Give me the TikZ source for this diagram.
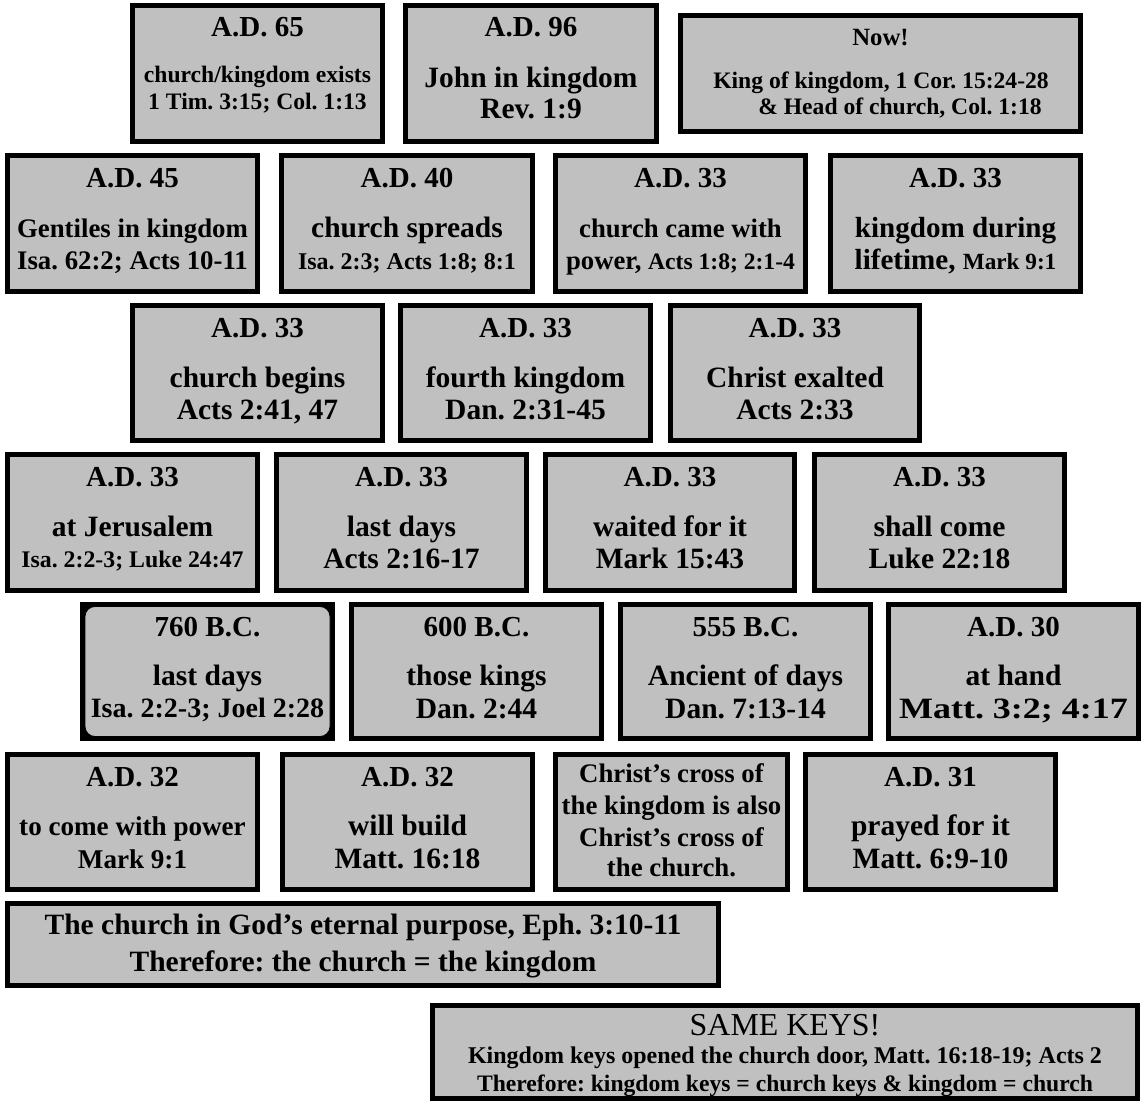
\documentclass[tikz,border=0pt]{standalone}
\usepackage{fontspec}
\setmainfont{Liberation Serif}
\newfontfamily\widefont[FakeStretch=1.22]{Liberation Serif}
\frenchspacing
\definecolor{boxgray}{RGB}{192,192,192}
\newcommand\fsz[1]{\fontsize{#1}{#1}\selectfont\bfseries}
\newcommand\fsr[1]{\fontsize{#1}{#1}\selectfont}
\tikzset{
  cbox/.style={draw=black, fill=boxgray, line width=5pt, inner sep=0pt},
  txt/.style={anchor=base, inner sep=0pt},
}
\newcommand\mkbox[5]{\node[cbox,minimum width=#4pt,minimum height=#5pt] (#1) at (#2,#3) {};}
\newcommand\mytx[5]{\node[txt,font={\fsz{#4}}] (#1) at (#2,#3) {#5};}
\begin{document}
\begin{tikzpicture}[x=1pt,y=-1pt]
\useasboundingbox (0,0) rectangle (1142,1102);
% ---------- row 1
\mkbox{b1}{257.5}{73.5}{250}{136}
\mytx{b1a}{257.5}{37}{29}{A.D. 65}
\mytx{b1b}{257.5}{83}{23.6}{church/kingdom exists}
\mytx{b1c}{257.5}{110}{23.6}{1 Tim. 3:15; Col. 1:13}
\mkbox{b2}{531}{73.5}{251}{136}
\mytx{b2a}{531}{37}{29}{A.D. 96}
\mytx{b2b}{531}{88}{29.5}{John in kingdom}
\mytx{b2c}{531}{119}{29.5}{Rev. 1:9}
\mkbox{b3}{880.5}{73.5}{400}{116}
\mytx{b3a}{880.5}{46}{24.8}{Now!}
\mytx{b3b}{881}{89}{23.6}{King of kingdom, 1 Cor. 15:24-28}
\mytx{b3c}{900}{115}{23.6}{\& Head of church, Col. 1:18}
% ---------- row 2
\mkbox{b4}{132.5}{223.5}{250}{136}
\mytx{b4a}{132.5}{187}{29}{A.D. 45}
\mytx{b4b}{132.5}{237}{26.8}{Gentiles in kingdom}
\mytx{b4c}{132.5}{269}{26.8}{Isa. 62:2; Acts 10-11}
\mkbox{b5}{407}{223.5}{251}{136}
\mytx{b5a}{407}{187}{29}{A.D. 40}
\mytx{b5b}{407}{237}{29.5}{church spreads}
\mytx{b5c}{407}{269}{24}{Isa. 2:3; Acts 1:8; 8:1}
\mkbox{b6}{680.5}{223.5}{250}{136}
\mytx{b6a}{680.5}{187}{29}{A.D. 33}
\mytx{b6b}{680.5}{237}{26.7}{church came with}
\mytx{b6c}{680.5}{269}{26.7}{power, {\fsz{23.6}Acts 1:8; 2:1-4}}
\mkbox{b7}{955.5}{223.5}{250}{136}
\mytx{b7a}{955.5}{187}{29}{A.D. 33}
\mytx{b7b}{955.5}{237}{29.1}{kingdom during}
\mytx{b7c}{955.5}{269}{29.1}{lifetime, {\fsz{23.2}Mark 9:1}}
% ---------- row 3
\mkbox{b8}{257.5}{373}{250}{135}
\mytx{b8a}{257.5}{337}{29}{A.D. 33}
\mytx{b8b}{257.5}{387}{29.5}{church begins}
\mytx{b8c}{257.5}{419}{29.5}{Acts 2:41, 47}
\mkbox{b9}{525.5}{373}{250}{135}
\mytx{b9a}{525.5}{337}{29}{A.D. 33}
\mytx{b9b}{525.5}{387}{29.5}{fourth kingdom}
\mytx{b9c}{525.5}{419}{29.5}{Dan. 2:31-45}
\mkbox{b10}{795}{373}{249}{135}
\mytx{b10a}{795}{337}{29}{A.D. 33}
\mytx{b10b}{795}{387}{29.5}{Christ exalted}
\mytx{b10c}{795}{419}{29.5}{Acts 2:33}
% ---------- row 4
\mkbox{b11}{132.5}{522.5}{250}{136}
\mytx{b11a}{132.5}{486}{29}{A.D. 33}
\mytx{b11b}{132.5}{536}{29.5}{at Jerusalem}
\mytx{b11c}{132.5}{567}{23.8}{Isa. 2:2-3; Luke 24:47}
\mkbox{b12}{401.5}{522.5}{250}{136}
\mytx{b12a}{401.5}{486}{29}{A.D. 33}
\mytx{b12b}{401.5}{536}{29.5}{last days}
\mytx{b12c}{401.5}{568}{29.5}{Acts 2:16-17}
\mkbox{b13}{670}{522.5}{249}{136}
\mytx{b13a}{670}{486}{29}{A.D. 33}
\mytx{b13b}{670}{536}{29.5}{waited for it}
\mytx{b13c}{670}{568}{29.5}{Mark 15:43}
\mkbox{b14}{939.5}{522.5}{250}{136}
\mytx{b14a}{939.5}{486}{29}{A.D. 33}
\mytx{b14b}{939.5}{536}{29.5}{shall come}
\mytx{b14c}{939.5}{568}{29.5}{Luke 22:18}
% ---------- row 5
\node[cbox,fill=black,minimum width=250pt,minimum height=134pt] (b15) at (207.5,671.5) {};
\node[draw=black,fill=boxgray,line width=0.8pt,rounded corners=10pt,minimum width=245pt,minimum height=130pt,inner sep=0pt] (b15in) at (b15.center) {};
\mytx{b15a}{207.5}{636}{29}{760 B.C.}
\mytx{b15b}{207.5}{685}{29.5}{last days}
\mytx{b15c}{207.5}{717}{28}{Isa. 2:2-3; Joel 2:28}
\mkbox{b16}{476.5}{671.5}{250}{134}
\mytx{b16a}{476.5}{636}{29}{600 B.C.}
\mytx{b16b}{476.5}{685}{29.5}{those kings}
\mytx{b16c}{476.5}{718}{29.5}{Dan. 2:44}
\mkbox{b17}{745.5}{671.5}{250}{134}
\mytx{b17a}{745.5}{636}{29}{555 B.C.}
\mytx{b17b}{745.5}{685}{29.5}{Ancient of days}
\mytx{b17c}{745.5}{718}{29.5}{Dan. 7:13-14}
\mkbox{b18}{1013.5}{671.5}{250}{134}
\mytx{b18a}{1013.5}{636}{29}{A.D. 30}
\mytx{b18b}{1013.5}{685}{29.5}{at hand}
\node[txt,font={\widefont\fsz{29.5}}] (b18c) at (1013.5,718) {Matt. 3:2; 4:17};
% ---------- row 6
\mkbox{b19}{132.5}{822}{250}{135}
\mytx{b19a}{132.5}{786}{29}{A.D. 32}
\mytx{b19b}{132.5}{835}{27.1}{to come with power}
\mytx{b19c}{132.5}{868}{27.1}{Mark 9:1}
\mkbox{b20}{407.5}{822}{250}{135}
\mytx{b20a}{407.5}{786}{29}{A.D. 32}
\mytx{b20b}{407.5}{835}{29.5}{will build}
\mytx{b20c}{407.5}{868}{29.5}{Matt. 16:18}
\mkbox{b21}{671.5}{822}{232}{135}
\mytx{b21a}{671.5}{782}{26.8}{Christ’s cross of}
\mytx{b21b}{671.5}{814}{26.8}{the kingdom is also}
\mytx{b21c}{671.5}{846}{26.8}{Christ’s cross of}
\mytx{b21d}{671.5}{876}{26.8}{the church.}
\mkbox{b22}{930.5}{822}{250}{135}
\mytx{b22a}{930.5}{786}{29}{A.D. 31}
\mytx{b22b}{930.5}{835}{29.5}{prayed for it}
\mytx{b22c}{930.5}{868}{29.5}{Matt. 6:9-10}
% ---------- row 7
\mkbox{b23}{363}{944.5}{711}{82}
\mytx{b23a}{363}{934}{29.5}{The church in God’s eternal purpose, Eph. 3:10-11}
\mytx{b23b}{363}{971}{29.5}{Therefore: the church = the kingdom}
% ---------- bottom
\mkbox{b24}{785}{1052}{705}{93}
\node[txt,font={\fsr{31.9}}] (b24a) at (785,1035) {SAME KEYS!};
\mytx{b24b}{785}{1063}{24}{Kingdom keys opened the church door, Matt. 16:18-19; Acts 2}
\mytx{b24c}{785}{1091}{23.6}{Therefore: kingdom keys = church keys \& kingdom = church}
\end{tikzpicture}
\end{document}
